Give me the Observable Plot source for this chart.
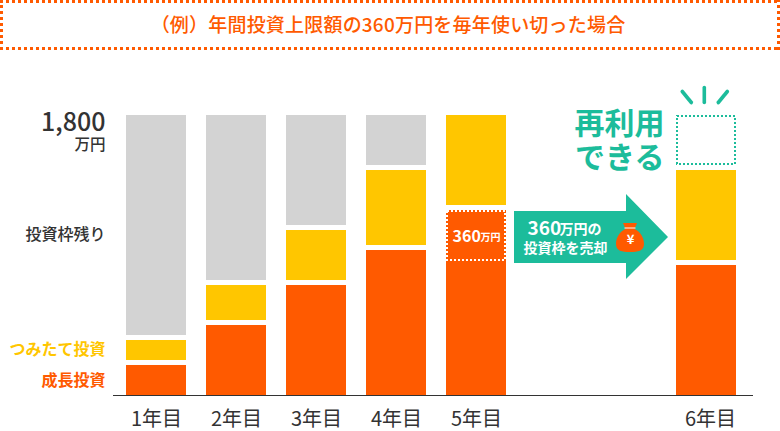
<!DOCTYPE html>
<html lang="ja">
<head>
<meta charset="utf-8">
<script src="https://cdn.jsdelivr.net/npm/d3@7"></script>
<script src="https://cdn.jsdelivr.net/npm/@observablehq/plot@0.6"></script>
<style>
html,body{margin:0;padding:0;background:#fff;}
body{width:780px;height:431px;overflow:hidden;font-family:"Noto Sans CJK JP","Noto Sans",sans-serif;}
#title{box-sizing:border-box;width:780px;height:50px;display:flex;align-items:center;justify-content:center;
  color:#ff5a00;font-size:19px;font-weight:500;letter-spacing:.2px;padding:0 4px 3px 0;
  background:
   repeating-linear-gradient(90deg,#ff5a00 0 3px,transparent 3px 6px) 0 0/100% 3px no-repeat,
   repeating-linear-gradient(90deg,#ff5a00 0 3px,transparent 3px 6px) 0 47px/100% 3px no-repeat,
   repeating-linear-gradient(0deg,#ff5a00 0 3px,transparent 3px 6px) 0 0/3px 100% no-repeat,
   repeating-linear-gradient(0deg,#ff5a00 0 3px,transparent 3px 6px) 777px 0/3px 100% no-repeat;}
svg{display:block;}
</style>
</head>
<body>
<div id="title">（例）年間投資上限額の360万円を毎年使い切った場合</div>
<div id="chart"></div>
<script>
const titleText = "（例）年間投資上限額の360万円を毎年使い切った場合";
const years = [1, 2, 3, 4, 5, 6];
const yearSuffix = "年目";
// Amounts (万円), each including the white gap above the lower segment
const growth  = [192.9, 450, 707.1, 932.1, 867.9, 835.7];
const sold    = [0, 0, 0, 0, 321.4, 0];
const tsumitate = [160.7, 257.1, 353.6, 514.3, 610.7, 610.7];
const remaining = [1446.4, 1092.9, 739.3, 353.6, 0, 0];
const reusable  = [0, 0, 0, 0, 0, 353.6];
const maxTotal = 1800;

const ORANGE = "#ff5a00", YELLOW = "#ffc600", GRAY = "#d3d3d3", TEAL = "#1cbc9b", INK = "#333333";
const BAR = -30, GAP = 5;

const rows = [];
years.forEach((year, i) => {
  let base = 0;
  for (const [series, arr] of [["growth", growth], ["sold", sold], ["tsumitate", tsumitate], ["remaining", remaining], ["reusable", reusable]]) {
    const v = arr[i];
    if (v > 0) rows.push({year, series, y1: base, y2: base + v});
    base += v;
  }
});
const seg = (s) => rows.filter((d) => d.series === s);
const rectOpts = (extra) => ({x1: "year", x2: "year", y1: "y1", y2: "y2", insetLeft: BAR, insetRight: BAR, ...extra});
const note = (text, year, value, o) => Plot.text([text], {x: () => year, y: () => value, lineAnchor: "middle", fontFamily: "Noto Sans CJK JP", ...o});
const yearAxis = (ticks, dx) => Plot.axisX({ticks, dx, tickFormat: (d) => d + yearSuffix, tickSize: 0, tickPadding: 16, fontSize: 20, label: null, fill: INK});

// Decorations anchored on the scales: arrow, money bag and sparkle rays
const arrow = (index, {x, y}) => {
  const ax = x(5) + 38, ay = y(0) - 184;
  const g = d3.create("svg:g");
  g.append("polygon").attr("fill", TEAL).attr("points", [
    [ax, ay], [ax + 112, ay], [ax + 112, ay - 17], [ax + 154, ay + 26], [ax + 112, ay + 68], [ax + 112, ay + 52], [ax, ay + 52]
  ].join(" "));
  const bx = ax + 116, by = ay + 12;
  g.append("path").attr("fill", ORANGE).attr("d",
    `M${bx-7},${by} H${bx+7} L${bx+4.5},${by+6} C${bx+11},${by+9} ${bx+14},${by+15} ${bx+14},${by+21} C${bx+14},${by+28} ${bx+8},${by+29} ${bx},${by+29} C${bx-8},${by+29} ${bx-14},${by+28} ${bx-14},${by+21} C${bx-14},${by+15} ${bx-11},${by+9} ${bx-4.5},${by+6} Z`);
  g.append("path").attr("stroke", "#fff").attr("stroke-width", 1).attr("d", `M${bx-5.5},${by+5} H${bx+5.5}`);
  return g.node();
};
const rays = (index, {x, y}) => {
  const cx = x(6) - 1.7, by = y(maxTotal) - 12.5;
  const g = d3.create("svg:g").attr("stroke", TEAL).attr("stroke-width", 3.6).attr("stroke-linecap", "round");
  for (const [x1, y1, x2, y2] of [[-22, -24, -13, -13], [0, -28, 0, -13], [23, -24, 14, -13]])
    g.append("line").attr("x1", cx + x1).attr("y1", by + y1 + 13).attr("x2", cx + x2).attr("y2", by + y2 + 13);
  return g.node();
};

const chart = Plot.plot({
  width: 780,
  height: 381,
  marginTop: 0, marginLeft: 113, marginRight: 27, marginBottom: 36,
  style: {fontFamily: "'Noto Sans CJK JP','Noto Sans',sans-serif", background: "transparent", overflow: "visible"},
  x: {type: "linear", domain: [1, 5, 6], range: [156, 476, 706], axis: null},
  y: {type: "linear", domain: [0, maxTotal], range: [345, 65], axis: null},
  marks: [
    Plot.rect(seg("remaining"), rectOpts({fill: GRAY, insetBottom: GAP})),
    Plot.rect(seg("tsumitate"), rectOpts({fill: YELLOW, insetBottom: GAP})),
    Plot.rect(seg("growth"), rectOpts({fill: ORANGE})),
    Plot.rect(seg("sold"), rectOpts({fill: ORANGE})),
    Plot.rect(seg("sold"), rectOpts({fill: "none", stroke: "#fff", strokeWidth: 2, strokeDasharray: "2 2", insetLeft: BAR + 1, insetRight: BAR + 1, insetTop: 1, insetBottom: 0})),
    Plot.rect(seg("reusable"), rectOpts({fill: "none", stroke: TEAL, strokeWidth: 2, strokeDasharray: "2 2", insetLeft: BAR + 1, insetRight: BAR + 1, insetTop: 1, insetBottom: GAP + 1})),
    Plot.ruleY([0], {stroke: INK, strokeWidth: 1}),
    yearAxis(years.slice(0, 5), 0),
    yearAxis(years.slice(5), 4),
    note("1,800", 1, maxTotal, {dx: -51, dy: 7, textAnchor: "end", fontSize: 25, fontWeight: 500, fill: INK}),
    note("万円", 1, maxTotal, {dx: -51, dy: 30, textAnchor: "end", fontSize: 15.5, fontWeight: 500, fill: INK}),
    note("投資枠残り", 1, 1031, {dx: -51, textAnchor: "end", fontSize: 16, fontWeight: 500, fill: INK}),
    note("つみたて投資", 1, 296, {dx: -51, textAnchor: "end", fontSize: 16, fontWeight: 700, fill: YELLOW}),
    note("成長投資", 1, 96, {dx: -51, textAnchor: "end", fontSize: 16, fontWeight: 700, fill: ORANGE}),
    note("360", 5, 1029, {dx: -24, dy: 1, textAnchor: "start", fontSize: 16, fontWeight: 700, fill: "#fff"}),
    note("万円", 5, 1029, {dx: 24, dy: 2, textAnchor: "end", fontSize: 10, fontWeight: 700, fill: "#fff"}),
    arrow,
    note("360", 5, 1029, {dx: 51, dy: -7, textAnchor: "start", fontSize: 19, fontWeight: 700, fill: "#fff"}),
    note("万円の", 5, 1029, {dx: 125, dy: -6, textAnchor: "end", fontSize: 14, fontWeight: 700, fill: "#fff"}),
    note("投資枠を売却", 5, 1029, {dx: 89, dy: 13, fontSize: 14, fontWeight: 700, fill: "#fff"}),
    note("¥", 5, 1029, {dx: 154, dy: 4, fontSize: 13, fontWeight: 700, fill: "#fff"}),
    note("再利用", 6, maxTotal, {dx: -42, dy: 9, textAnchor: "end", fontSize: 30, fontWeight: 700, fill: TEAL}),
    note("できる", 6, maxTotal, {dx: -42, dy: 43, textAnchor: "end", fontSize: 30, fontWeight: 700, fill: TEAL}),
    rays
  ]
});
document.getElementById("chart").append(chart);
</script>
</body>
</html>
